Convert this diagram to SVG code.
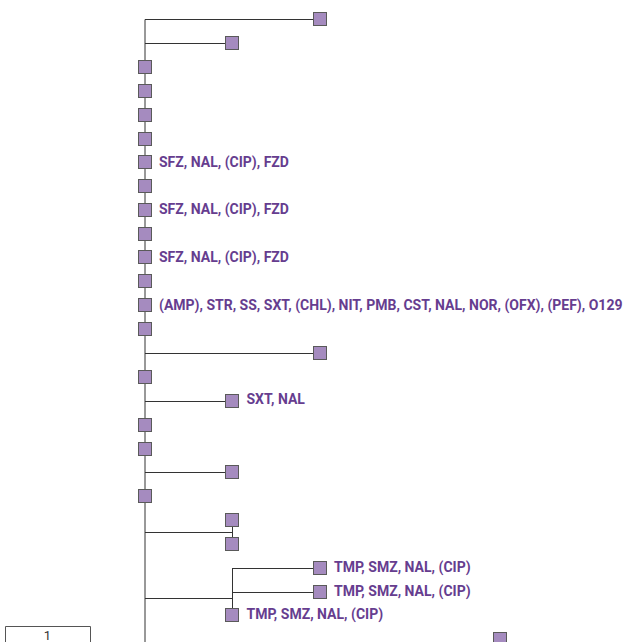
<svg xmlns="http://www.w3.org/2000/svg" width="631" height="642" viewBox="0 0 631 642">
<style>
.n{fill:#a58bbf;stroke:#5a5a5a;stroke-width:1}
.e{stroke:#333;stroke-width:1;fill:none}
.t{font-family:Roboto,"Liberation Sans",sans-serif;font-weight:bold;font-size:14px;fill:#663d8f}
.s{stroke:#555;stroke-width:1;fill:none}
.sl{font-family:Roboto,"Liberation Sans",sans-serif;font-size:13px;fill:#333}
</style>
<rect width="631" height="642" fill="#fff"/>
<g id="connectors">
<path class="e" d="M145 19.5V642"/>
<path class="e" d="M145 19.5H313"/>
<path class="e" d="M145 43.5H225"/>
<path class="e" d="M145 353.5H313"/>
<path class="e" d="M145 401.5H225"/>
<path class="e" d="M145 472.5H225"/>
<path class="e" d="M145 532.5H232.5M232.5 520V544"/>
<path class="e" d="M145 598.5H232.5M232.5 568V610M232.5 568.5H313M232.5 592.5H313"/>
</g>
<g id="scale">
<path class="s" d="M5.5 642V626.5H90.5V642"/>
<text class="sl" x="47.5" y="640" text-anchor="middle">1</text>
</g>
<g id="n0"><rect class="n" x="313.5" y="12.5" width="13" height="13"/></g>
<g id="n1"><rect class="n" x="225.5" y="36.5" width="13" height="13"/></g>
<g id="n2"><rect class="n" x="138.5" y="60.5" width="13" height="13"/></g>
<g id="n3"><rect class="n" x="138.5" y="84.5" width="13" height="13"/></g>
<g id="n4"><rect class="n" x="138.5" y="108.5" width="13" height="13"/></g>
<g id="n5"><rect class="n" x="138.5" y="132.5" width="13" height="13"/></g>
<g id="n6"><rect class="n" x="138.5" y="155.5" width="13" height="13"/><text class="t" x="159" y="166.5">SFZ, NAL, (CIP), FZD</text></g>
<g id="n7"><rect class="n" x="138.5" y="179.5" width="13" height="13"/></g>
<g id="n8"><rect class="n" x="138.5" y="203.5" width="13" height="13"/><text class="t" x="159" y="214">SFZ, NAL, (CIP), FZD</text></g>
<g id="n9"><rect class="n" x="138.5" y="227.5" width="13" height="13"/></g>
<g id="n10"><rect class="n" x="138.5" y="250.5" width="13" height="13"/><text class="t" x="159" y="261.5">SFZ, NAL, (CIP), FZD</text></g>
<g id="n11"><rect class="n" x="138.5" y="274.5" width="13" height="13"/></g>
<g id="n12"><rect class="n" x="138.5" y="298.5" width="13" height="13"/><text class="t" x="159" y="309.5">(AMP), STR, SS, SXT, (CHL), NIT, PMB, CST, NAL, NOR, (OFX), (PEF), O129</text></g>
<g id="n13"><rect class="n" x="138.5" y="322.5" width="13" height="13"/></g>
<g id="n14"><rect class="n" x="313.5" y="346.5" width="13" height="13"/></g>
<g id="n15"><rect class="n" x="138.5" y="370.5" width="13" height="13"/></g>
<g id="n16"><rect class="n" x="225.5" y="394.5" width="13" height="13"/><text class="t" x="246.5" y="404">SXT, NAL</text></g>
<g id="n17"><rect class="n" x="138.5" y="418.5" width="13" height="13"/></g>
<g id="n18"><rect class="n" x="138.5" y="442.5" width="13" height="13"/></g>
<g id="n19"><rect class="n" x="225.5" y="465.5" width="13" height="13"/></g>
<g id="n20"><rect class="n" x="138.5" y="489.5" width="13" height="13"/></g>
<g id="n21"><rect class="n" x="225.5" y="513.5" width="13" height="13"/></g>
<g id="n22"><rect class="n" x="225.5" y="537.5" width="13" height="13"/></g>
<g id="n23"><rect class="n" x="313.5" y="561.5" width="13" height="13"/><text class="t" x="334" y="571.5">TMP, SMZ, NAL, (CIP)</text></g>
<g id="n24"><rect class="n" x="313.5" y="585.5" width="13" height="13"/><text class="t" x="334" y="595.5">TMP, SMZ, NAL, (CIP)</text></g>
<g id="n25"><rect class="n" x="225.5" y="608.5" width="13" height="13"/><text class="t" x="246.5" y="619">TMP, SMZ, NAL, (CIP)</text></g>
<g id="n26"><rect class="n" x="493.5" y="632.5" width="13" height="13"/></g>
</svg>
